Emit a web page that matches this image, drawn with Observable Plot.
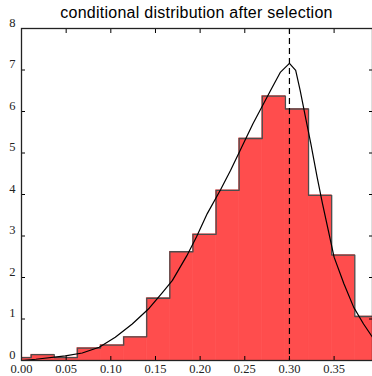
<!DOCTYPE html>
<html>
<head>
<meta charset="utf-8">
<script src="https://cdn.jsdelivr.net/npm/d3@7"></script>
<script src="https://cdn.jsdelivr.net/npm/@observablehq/plot@0.6"></script>
<style>
  html, body { margin: 0; padding: 0; background: #fff; }
  #wrap { position: relative; width: 372px; height: 376px; overflow: hidden; }
  #title { position: absolute; left: 21px; top: 0; width: 351px; height: 20px; text-align: center; z-index: 2;
    font-family: "Liberation Sans", Arial, sans-serif; font-size: 16px; line-height: 18px; padding-top: 4px;
    letter-spacing: 0.25px; color: #000; white-space: nowrap; }
  #chart { position: absolute; left: 0; top: 0; }
</style>
</head>
<body>
<div id="wrap">
  <div id="title">conditional distribution after selection</div>
  <div id="chart"></div>
</div>
<script>
// Histogram bin edges and heights (density)
const binEdges = [-0.0150, 0.0109, 0.0367, 0.0626, 0.0885, 0.1144, 0.1402, 0.1661, 0.1920,
                  0.2179, 0.2437, 0.2696, 0.2955, 0.3214, 0.3473, 0.3732, 0.3991];
const binHeights = [0.07, 0.14, 0.07, 0.30, 0.37, 0.57, 1.50, 2.62, 3.04,
                    4.10, 5.35, 6.37, 6.06, 3.98, 2.54, 1.06];

// Theoretical density curve
const curveX = [0.000, 0.016, 0.049, 0.068, 0.087, 0.105, 0.124, 0.143, 0.158, 0.169, 0.185,
                0.196, 0.208, 0.223, 0.234, 0.259, 0.279, 0.290, 0.300, 0.307, 0.312, 0.318,
                0.324, 0.331, 0.337, 0.350, 0.361, 0.372, 0.383, 0.393];
const curveY = [0.00, 0.03, 0.11, 0.18, 0.32, 0.56, 0.88, 1.26, 1.64, 1.93, 2.52,
                2.98, 3.54, 4.12, 4.58, 5.70, 6.51, 6.95, 7.16, 6.99, 6.51, 5.86,
                5.22, 4.42, 3.78, 2.49, 1.85, 1.28, 0.88, 0.56];

const threshold = [0.30];
const xTicks = [0.00, 0.05, 0.10, 0.15, 0.20, 0.25, 0.30, 0.35];
const yTicks = [0, 1, 2, 3, 4, 5, 6, 7, 8];
const xDomain = [0, 0.393];
const yDomain = [0, 8];

const bins = binHeights.map((h, i) => ({x1: binEdges[i], x2: binEdges[i + 1], h}));
const outline = [{x: binEdges[0], y: 0}]
  .concat(binHeights.map((h, i) => ({x: binEdges[i], y: h})))
  .concat([{x: binEdges[binEdges.length - 1], y: 0}]);
const curve = curveX.map((x, i) => ({x, y: curveY[i]}));

const serif = "'Liberation Serif', 'DejaVu Serif', serif";
const chart = Plot.plot({
  width: 372,
  height: 376,
  marginTop: 28,
  marginBottom: 16,
  marginLeft: 21,
  marginRight: 0,
  x: {domain: xDomain},
  y: {domain: yDomain},
  style: {background: "transparent"},
  marks: [
    Plot.rectY(bins, {x1: "x1", x2: "x2", y: "h", fill: "#ff4d4d", stroke: "#ff4d4d", strokeWidth: 0.6, clip: true}),
    Plot.line(outline, {x: "x", y: "y", curve: "step-after", stroke: "#4d4d4d", strokeWidth: 1.3, clip: true}),
    Plot.line(curve, {x: "x", y: "y", stroke: "#000", strokeWidth: 1.2, clip: true}),
    Plot.ruleX(threshold, {stroke: "#000", strokeWidth: 1.2, strokeDasharray: "6,4"}),
    Plot.axisX({anchor: "bottom", ticks: xTicks, tickSize: 0, tickPadding: 3.5, tickFormat: d3.format(".2f"),
      fontFamily: serif, fontSize: 12.5, fill: "#222", label: null}),
    Plot.axisX({anchor: "bottom", ticks: xTicks, tickSize: -4, tickFormat: () => "", label: null, stroke: "#000"}),
    Plot.axisX({anchor: "top", ticks: xTicks, tickSize: -4, tickFormat: () => "", label: null, stroke: "#000"}),
    Plot.axisY({anchor: "left", ticks: yTicks, tickSize: 0, tickPadding: 6, dy: -6,
      fontFamily: serif, fontSize: 12.5, fill: "#222", label: null}),
    Plot.axisY({anchor: "left", ticks: yTicks, tickSize: -4, tickFormat: () => "", label: null, stroke: "#000"}),
    Plot.axisY({anchor: "right", ticks: yTicks, tickSize: -4, tickFormat: () => "", label: null, stroke: "#000"}),
    Plot.frame({stroke: "#222", strokeWidth: 1.3})
  ]
});
document.getElementById("chart").appendChild(chart);
</script>
</body>
</html>
